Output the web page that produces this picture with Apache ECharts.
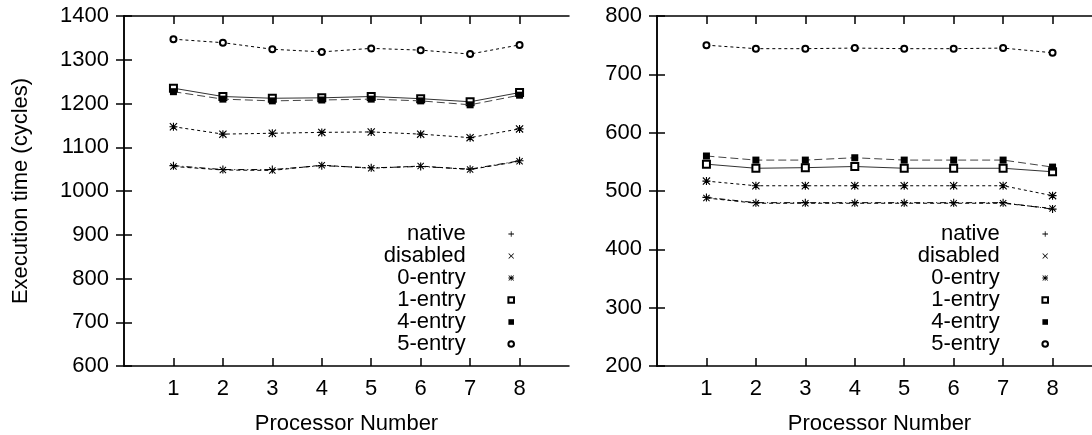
<!DOCTYPE html>
<html style="height: 100%">
   <head>
       <meta charset="utf-8">
       <script type="text/javascript" src="https://cdn.jsdelivr.net/npm/echarts@6/dist/echarts.min.js"></script>
   </head>
   <body style="height: 100%; width:100%; margin: 0; background: #fff">
       <div id="chart" style="width: 1092px; height: 435px;"></div>

       <script type="text/javascript">

// data
var procs = [1, 2, 3, 4, 5, 6, 7, 8];
var xTicks = [1, 2, 3, 4, 5, 6, 7, 8];
var seriesNames = ['native', 'disabled', '0-entry', '1-entry', '4-entry', '5-entry'];

var leftNative   = [1058, 1049, 1049, 1058, 1053, 1056, 1050, 1069];
var leftDisabled = [1056, 1048, 1047, 1059, 1052, 1057, 1049, 1068];
var leftZero     = [1147, 1130, 1132, 1134, 1135, 1130, 1122, 1142];
var leftOne      = [1235, 1216, 1212, 1213, 1216, 1211, 1204, 1225];
var leftFour     = [1227, 1210, 1206, 1208, 1210, 1206, 1197, 1219];
var leftFive     = [1347, 1339, 1324, 1318, 1326, 1322, 1313, 1334];

var rightNative   = [489, 480, 480, 480, 480, 480, 480, 469];
var rightDisabled = [488, 479, 479, 479, 479, 479, 479, 470];
var rightZero     = [517, 509, 509, 509, 509, 509, 509, 492];
var rightOne      = [546, 539, 540, 542, 539, 539, 539, 533];
var rightFour     = [560, 553, 553, 557, 553, 553, 553, 541];
var rightFive     = [750, 744, 744, 745, 744, 744, 745, 737];

var font = 'Liberation Sans';
var fsize = 22;

// gnuplot-ish point types
var plusSym  = 'path://M4.3,0H5.7V4.3H10V5.7H5.7V10H4.3V5.7H0V4.3H4.3Z';
var crossSym = 'path://M0,1L1,0L5,4L9,0L10,1L6,5L10,9L9,10L5,6L1,10L0,9L4,5Z';
var starSym  = 'path://M4.3,0H5.7V4.3H10V5.7H5.7V10H4.3V5.7H0V4.3H4.3Z M0,1L1,0L5,4L9,0L10,1L6,5L10,9L9,10L5,6L1,10L0,9L4,5Z';

var styles = [
  {symbol: plusSym, size: 8, dash: [6, 3, 1, 3], color: '#000'},
  {symbol: crossSym, size: 7, dash: [4, 3], color: '#000'},
  {symbol: starSym, size: 8, dash: [3, 3], color: '#000'},
  {symbol: 'emptyRect', size: 7, dash: 'solid', color: '#333'},
  {symbol: 'rect', size: 7, dash: [8, 4], color: '#444'},
  {symbol: 'emptyCircle', size: 6, dash: [3, 3], color: '#000'}
];

function pairs(vals) {
  return procs.map(function (p, i) { return [p, vals[i]]; });
}

function makeSeries(list, xi, yi) {
  return list.map(function (vals, i) {
    var st = styles[i];
    return {
      name: seriesNames[i],
      type: 'line',
      xAxisIndex: xi,
      yAxisIndex: yi,
      data: pairs(vals),
      symbol: st.symbol,
      symbolSize: st.size,
      showAllSymbol: true,
      animation: false,
      itemStyle: {color: '#000', borderWidth: 0},
      lineStyle: {color: st.color, width: 1, type: st.dash},
      emphasis: {disabled: true},
      z: 2 + i
    };
  });
}

function xAxis(grid, pos) {
  var bottom = pos === 'bottom';
  return {
    type: 'value', gridIndex: grid, position: pos,
    min: 0, max: 9, interval: 1,
    name: bottom ? 'Processor Number' : '',
    nameLocation: 'middle', nameGap: 47,
    nameTextStyle: {fontFamily: font, fontSize: fsize, color: '#000'},
    axisLine: {show: true, lineStyle: {color: '#000', width: 1.5}},
    axisTick: {show: true, inside: true, length: 8, customValues: xTicks,
               lineStyle: {color: '#000', width: 1.5}},
    axisLabel: {show: bottom, customValues: xTicks, margin: 12,
                fontFamily: font, fontSize: fsize, color: '#000'},
    splitLine: {show: false}
  };
}

function yAxis(grid, pos, min, max, name) {
  var left = pos === 'left';
  return {
    type: 'value', gridIndex: grid, position: pos,
    min: min, max: max, interval: 100,
    name: left ? name : '',
    nameLocation: 'middle', nameGap: 92, nameRotate: 90,
    nameTextStyle: {fontFamily: font, fontSize: fsize, color: '#000'},
    axisLine: {show: true, lineStyle: {color: '#000', width: 1.5}},
    axisTick: {show: true, inside: true, length: 8, lineStyle: {color: '#000', width: 1.5}},
    axisLabel: {show: left, margin: 15, fontFamily: font, fontSize: fsize, color: '#000',
                formatter: function (v) { return String(v); }},
    splitLine: {show: false}
  };
}

function legend(right) {
  return {
    data: seriesNames,
    orient: 'vertical',
    align: 'right',
    right: right,
    top: 223,
    padding: 0,
    itemGap: 0,
    itemWidth: 7,
    itemHeight: 7,
    selectedMode: false,
    lineStyle: {width: 0},
    textStyle: {fontFamily: font, fontSize: fsize, color: '#000', lineHeight: 22,
                padding: [0, 37, 0, 0]}
  };
}

var chart = echarts.init(document.getElementById('chart'));

var option = {
  backgroundColor: '#fff',
  animation: false,
  grid: [
    {left: 124, top: 16, width: 445, height: 350, outerBoundsMode: 'none', containLabel: false},
    {left: 657, top: 16, width: 445, height: 350, outerBoundsMode: 'none', containLabel: false}
  ],
  xAxis: [xAxis(0, 'bottom'), xAxis(0, 'top'), xAxis(1, 'bottom'), xAxis(1, 'top')],
  yAxis: [
    yAxis(0, 'left', 600, 1400, 'Execution time (cycles)'),
    yAxis(0, 'right', 600, 1400),
    yAxis(1, 'left', 200, 800),
    yAxis(1, 'right', 200, 800)
  ],
  legend: [legend(577), legend(43)],
  series: makeSeries([leftNative, leftDisabled, leftZero, leftOne, leftFour, leftFive], 0, 0)
    .concat(makeSeries([rightNative, rightDisabled, rightZero, rightOne, rightFour, rightFive], 2, 2))
};

chart.setOption(option);

       </script>
   </body>
</html>
